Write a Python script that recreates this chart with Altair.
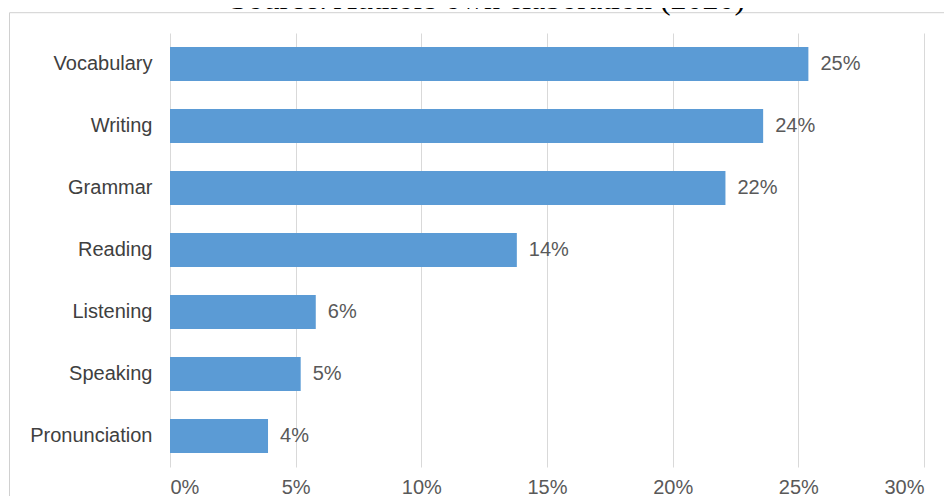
import altair as alt
import pandas as pd

# ---- data ----
CATEGORIES = ["Vocabulary", "Writing", "Grammar", "Reading", "Listening", "Speaking", "Pronunciation"]
VALUES = [25.4, 23.6, 22.1, 13.8, 5.8, 5.2, 3.9]          # percent
VALUE_LABELS = ["25%", "24%", "22%", "14%", "6%", "5%", "4%"]
X_TICKS = [0, 5, 10, 15, 20, 25, 30]
TITLE = "Source: Authors own elaboration (2020)"

df = pd.DataFrame({"skill": CATEGORIES, "value": VALUES, "label": VALUE_LABELS})

W, H = 754, 434
FONT = "Liberation Sans"
FS = 20
BLUE = "#5B9BD5"

y_enc = alt.Y(
    "skill:N",
    sort=CATEGORIES,
    scale=alt.Scale(paddingInner=0.45, paddingOuter=0.225),
    axis=alt.Axis(
        title=None, domain=False, ticks=False, grid=False,
        labelFont=FONT, labelFontSize=FS, labelColor="#404040",
        labelPadding=18, labelLimit=300,
    ),
)

x_enc = alt.X(
    "value:Q",
    scale=alt.Scale(domain=[0, 30], nice=False),
    axis=alt.Axis(
        title=None, values=X_TICKS, labelExpr="datum.value + '%'",
        domain=False, ticks=False, grid=True,
        gridColor="#D9D9D9", gridWidth=1,
        labelFont=FONT, labelFontSize=FS, labelColor="#595959",
        labelPadding=10,
    ),
)

bars = alt.Chart(df).mark_bar(color=BLUE).encode(x=x_enc, y=y_enc)

labels = alt.Chart(df).mark_text(
    align="left", baseline="middle", dx=12,
    font=FONT, fontSize=FS, color="#595959",
).encode(x="value:Q", y=alt.Y("skill:N", sort=CATEGORIES), text="label:N")

title_df = pd.DataFrame({"t": [TITLE]})
title = alt.Chart(title_df).mark_text(
    font="Liberation Serif", fontSize=32, color="#000000",
    align="center", baseline="alphabetic",
).encode(x=alt.value(317.5), y=alt.value(-24.5), text="t:N")

# outer frame (left and top edges; right/bottom lie outside the picture)
frame_top = alt.Chart(title_df).mark_rule(color="#D0D0D0", strokeWidth=1).encode(
    x=alt.value(-160.5), x2=alt.value(W + 40), y=alt.value(-20.3)
)
frame_left = alt.Chart(title_df).mark_rule(color="#D0D0D0", strokeWidth=1).encode(
    x=alt.value(-160.5), y=alt.value(-20.3), y2=alt.value(H + 60)
)

chart = (
    alt.layer(frame_top, frame_left, bars, labels, title)
    .properties(
        width=W, height=H,
        autosize=alt.AutoSizeParams(type="none"),
        padding={"left": 162, "top": 25, "right": 20, "bottom": 29},
        background="white",
    )
    .configure_view(stroke=None)
)

chart.save("out.html", embed_options={"renderer": "svg", "actions": False})
